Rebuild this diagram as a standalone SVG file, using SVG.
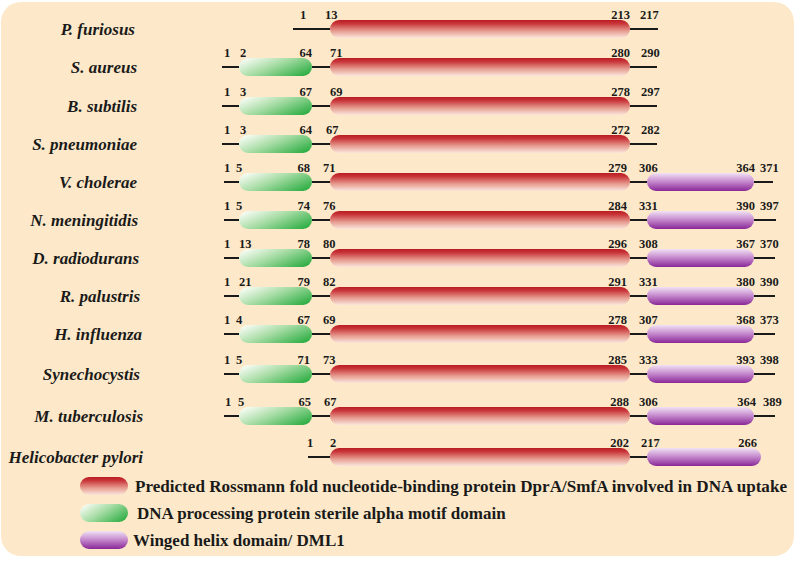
<svg xmlns="http://www.w3.org/2000/svg" width="800" height="565" viewBox="0 0 800 565">
<defs>
<linearGradient id="gRed" x1="0" y1="0" x2="0" y2="1">
<stop offset="0" stop-color="#b81c22"/>
<stop offset="0.2" stop-color="#c9363a"/>
<stop offset="0.6" stop-color="#e59a8e"/>
<stop offset="1" stop-color="#fbe6dc"/>
</linearGradient>
<linearGradient id="gGreen" x1="0" y1="0.2" x2="1" y2="0.8">
<stop offset="0" stop-color="#f6fbf2"/>
<stop offset="0.45" stop-color="#a6dca4"/>
<stop offset="1" stop-color="#2fae45"/>
</linearGradient>
<linearGradient id="gPurple" x1="0" y1="0" x2="0" y2="1">
<stop offset="0" stop-color="#f1e2f4"/>
<stop offset="0.45" stop-color="#c88fd0"/>
<stop offset="1" stop-color="#8a2898"/>
</linearGradient>
<style>
.lab{font-family:"Liberation Serif","Times New Roman",serif;font-weight:bold;font-style:italic;font-size:17px;fill:#1a1a1a;text-anchor:end}
.num{font-family:"Liberation Serif","Times New Roman",serif;font-weight:bold;font-size:12.5px;fill:#1a1a1a}
.e{text-anchor:end}
.leg{font-family:"Liberation Serif","Times New Roman",serif;font-weight:bold;font-size:17px;fill:#1a1a1a}
.r{fill:url(#gRed)}
.g{fill:url(#gGreen)}
.p{fill:url(#gPurple)}
.ln{stroke:#1a1a1a;stroke-width:2;fill:none}
</style>
</defs>
<rect x="0" y="0" width="800" height="565" fill="#ffffff"/>
<rect x="1" y="2" width="793" height="554" rx="20" fill="#fde9c9"/>

<g id="connectors" class="ln">
<path d="M293 29H330M630 29H658"/>
<path d="M222 67H239M312 67H330M630 67H657"/>
<path d="M222 106H239M312 106H330M630 106H657"/>
<path d="M222 144H239M312 144H330M630 144H657"/>
<path d="M224 182H239M312 182H330M630 182H647M754 182H773"/>
<path d="M224 220H239M312 220H330M630 220H647M754 220H776"/>
<path d="M224 258H239M312 258H330M630 258H647M754 258H775"/>
<path d="M224 296H239M312 296H330M630 296H647M754 296H775"/>
<path d="M224 334H239M312 334H330M630 334H647M754 334H775"/>
<path d="M224 374H239M312 374H330M630 374H647M754 374H775"/>
<path d="M224 416H239M312 416H330M630 416H647M754 416H775"/>
<path d="M308 457H330M630 457H647"/>
</g>

<g id="p-furiosus">
<text class="lab" x="135" y="35">P. furiosus</text>
<rect class="r" x="330" y="20" width="300" height="18" rx="9"/>
<text class="num" x="300" y="19">1</text><text class="num" x="325" y="19">13</text>
<text class="num e" x="630" y="19">213</text><text class="num" x="640" y="19">217</text>
</g>

<g id="s-aureus">
<text class="lab" x="137" y="73">S. aureus</text>
<rect class="g" x="239" y="58" width="73" height="18" rx="9"/>
<rect class="r" x="330" y="58" width="300" height="18" rx="9"/>
<text class="num" x="224" y="57">1</text><text class="num" x="240" y="57">2</text>
<text class="num e" x="312" y="57">64</text><text class="num" x="330" y="57">71</text>
<text class="num e" x="630" y="57">280</text><text class="num" x="641" y="57">290</text>
</g>

<g id="b-subtilis">
<text class="lab" x="137" y="112">B. subtilis</text>
<rect class="g" x="239" y="97" width="73" height="18" rx="9"/>
<rect class="r" x="330" y="97" width="300" height="18" rx="9"/>
<text class="num" x="224" y="96">1</text><text class="num" x="240" y="96">3</text>
<text class="num e" x="312" y="96">67</text><text class="num" x="330" y="96">69</text>
<text class="num e" x="630" y="96">278</text><text class="num" x="641" y="96">297</text>
</g>

<g id="s-pneumoniae">
<text class="lab" x="137" y="150">S. pneumoniae</text>
<rect class="g" x="239" y="135" width="73" height="18" rx="9"/>
<rect class="r" x="330" y="135" width="300" height="18" rx="9"/>
<text class="num" x="224" y="134">1</text><text class="num" x="240" y="134">3</text>
<text class="num e" x="312" y="134">64</text><text class="num" x="326" y="134">67</text>
<text class="num e" x="630" y="134">272</text><text class="num" x="641" y="134">282</text>
</g>

<g id="v-cholerae">
<text class="lab" x="137" y="188">V. cholerae</text>
<rect class="g" x="239" y="173" width="73" height="18" rx="9"/>
<rect class="r" x="330" y="173" width="300" height="18" rx="9"/>
<rect class="p" x="647" y="173" width="107" height="18" rx="9"/>
<text class="num" x="224" y="172">1</text><text class="num" x="236" y="172">5</text>
<text class="num e" x="310" y="172">68</text><text class="num" x="323" y="172">71</text>
<text class="num e" x="627" y="172">279</text><text class="num" x="639" y="172">306</text>
<text class="num e" x="755" y="172">364</text><text class="num" x="760" y="172">371</text>
</g>

<g id="n-meningitidis">
<text class="lab" x="138" y="226">N. meningitidis</text>
<rect class="g" x="239" y="211" width="73" height="18" rx="9"/>
<rect class="r" x="330" y="211" width="300" height="18" rx="9"/>
<rect class="p" x="647" y="211" width="107" height="18" rx="9"/>
<text class="num" x="224" y="210">1</text><text class="num" x="236" y="210">5</text>
<text class="num e" x="310" y="210">74</text><text class="num" x="323" y="210">76</text>
<text class="num e" x="627" y="210">284</text><text class="num" x="639" y="210">331</text>
<text class="num e" x="755" y="210">390</text><text class="num" x="760" y="210">397</text>
</g>

<g id="d-radiodurans">
<text class="lab" x="139" y="264">D. radiodurans</text>
<rect class="g" x="239" y="249" width="73" height="18" rx="9"/>
<rect class="r" x="330" y="249" width="300" height="18" rx="9"/>
<rect class="p" x="647" y="249" width="107" height="18" rx="9"/>
<text class="num" x="224" y="248">1</text><text class="num" x="239" y="248">13</text>
<text class="num e" x="310" y="248">78</text><text class="num" x="323" y="248">80</text>
<text class="num e" x="627" y="248">296</text><text class="num" x="639" y="248">308</text>
<text class="num e" x="755" y="248">367</text><text class="num" x="760" y="248">370</text>
</g>

<g id="r-palustris">
<text class="lab" x="140" y="302">R. palustris</text>
<rect class="g" x="239" y="287" width="73" height="18" rx="9"/>
<rect class="r" x="330" y="287" width="300" height="18" rx="9"/>
<rect class="p" x="647" y="287" width="107" height="18" rx="9"/>
<text class="num" x="224" y="286">1</text><text class="num" x="239" y="286">21</text>
<text class="num e" x="310" y="286">79</text><text class="num" x="323" y="286">82</text>
<text class="num e" x="627" y="286">291</text><text class="num" x="639" y="286">331</text>
<text class="num e" x="755" y="286">380</text><text class="num" x="760" y="286">390</text>
</g>

<g id="h-influenza">
<text class="lab" x="142" y="340">H. influenza</text>
<rect class="g" x="239" y="325" width="73" height="18" rx="9"/>
<rect class="r" x="330" y="325" width="300" height="18" rx="9"/>
<rect class="p" x="647" y="325" width="107" height="18" rx="9"/>
<text class="num" x="224" y="324">1</text><text class="num" x="236" y="324">4</text>
<text class="num e" x="310" y="324">67</text><text class="num" x="323" y="324">69</text>
<text class="num e" x="627" y="324">278</text><text class="num" x="639" y="324">307</text>
<text class="num e" x="755" y="324">368</text><text class="num" x="760" y="324">373</text>
</g>

<g id="synechocystis">
<text class="lab" x="140" y="380">Synechocystis</text>
<rect class="g" x="239" y="365" width="73" height="18" rx="9"/>
<rect class="r" x="330" y="365" width="300" height="18" rx="9"/>
<rect class="p" x="647" y="365" width="107" height="18" rx="9"/>
<text class="num" x="224" y="364">1</text><text class="num" x="236" y="364">5</text>
<text class="num e" x="310" y="364">71</text><text class="num" x="323" y="364">73</text>
<text class="num e" x="627" y="364">285</text><text class="num" x="639" y="364">333</text>
<text class="num e" x="755" y="364">393</text><text class="num" x="760" y="364">398</text>
</g>

<g id="m-tuberculosis">
<text class="lab" x="143" y="422">M. tuberculosis</text>
<rect class="g" x="239" y="407" width="73" height="18" rx="9"/>
<rect class="r" x="330" y="407" width="300" height="18" rx="9"/>
<rect class="p" x="647" y="407" width="107" height="18" rx="9"/>
<text class="num" x="225" y="406">1</text><text class="num" x="238" y="406">5</text>
<text class="num e" x="311" y="406">65</text><text class="num" x="324" y="406">67</text>
<text class="num e" x="629" y="406">288</text><text class="num" x="639" y="406">306</text>
<text class="num e" x="756" y="406">364</text><text class="num" x="763" y="406">389</text>
</g>

<g id="helicobacter-pylori">
<text class="lab" x="143" y="463">Helicobacter pylori</text>
<rect class="r" x="330" y="448" width="300" height="18" rx="9"/>
<rect class="p" x="647" y="448" width="114" height="18" rx="9"/>
<text class="num" x="307" y="447">1</text><text class="num" x="330" y="447">2</text>
<text class="num e" x="629" y="447">202</text><text class="num" x="641" y="447">217</text>
<text class="num e" x="757" y="447">266</text>
</g>

<g id="legend">
<rect class="r" x="80" y="477" width="48" height="18" rx="9"/>
<text class="leg" x="135" y="492" textLength="652" lengthAdjust="spacingAndGlyphs">Predicted Rossmann fold nucleotide-binding protein DprA/SmfA involved in DNA uptake</text>
<rect class="g" x="80" y="504" width="48" height="18" rx="9"/>
<text class="leg" x="137" y="519">DNA processing protein sterile alpha motif domain</text>
<rect class="p" x="80" y="531" width="48" height="18" rx="9"/>
<text class="leg" x="133" y="546">Winged helix domain/ DML1</text>
</g>
</svg>
